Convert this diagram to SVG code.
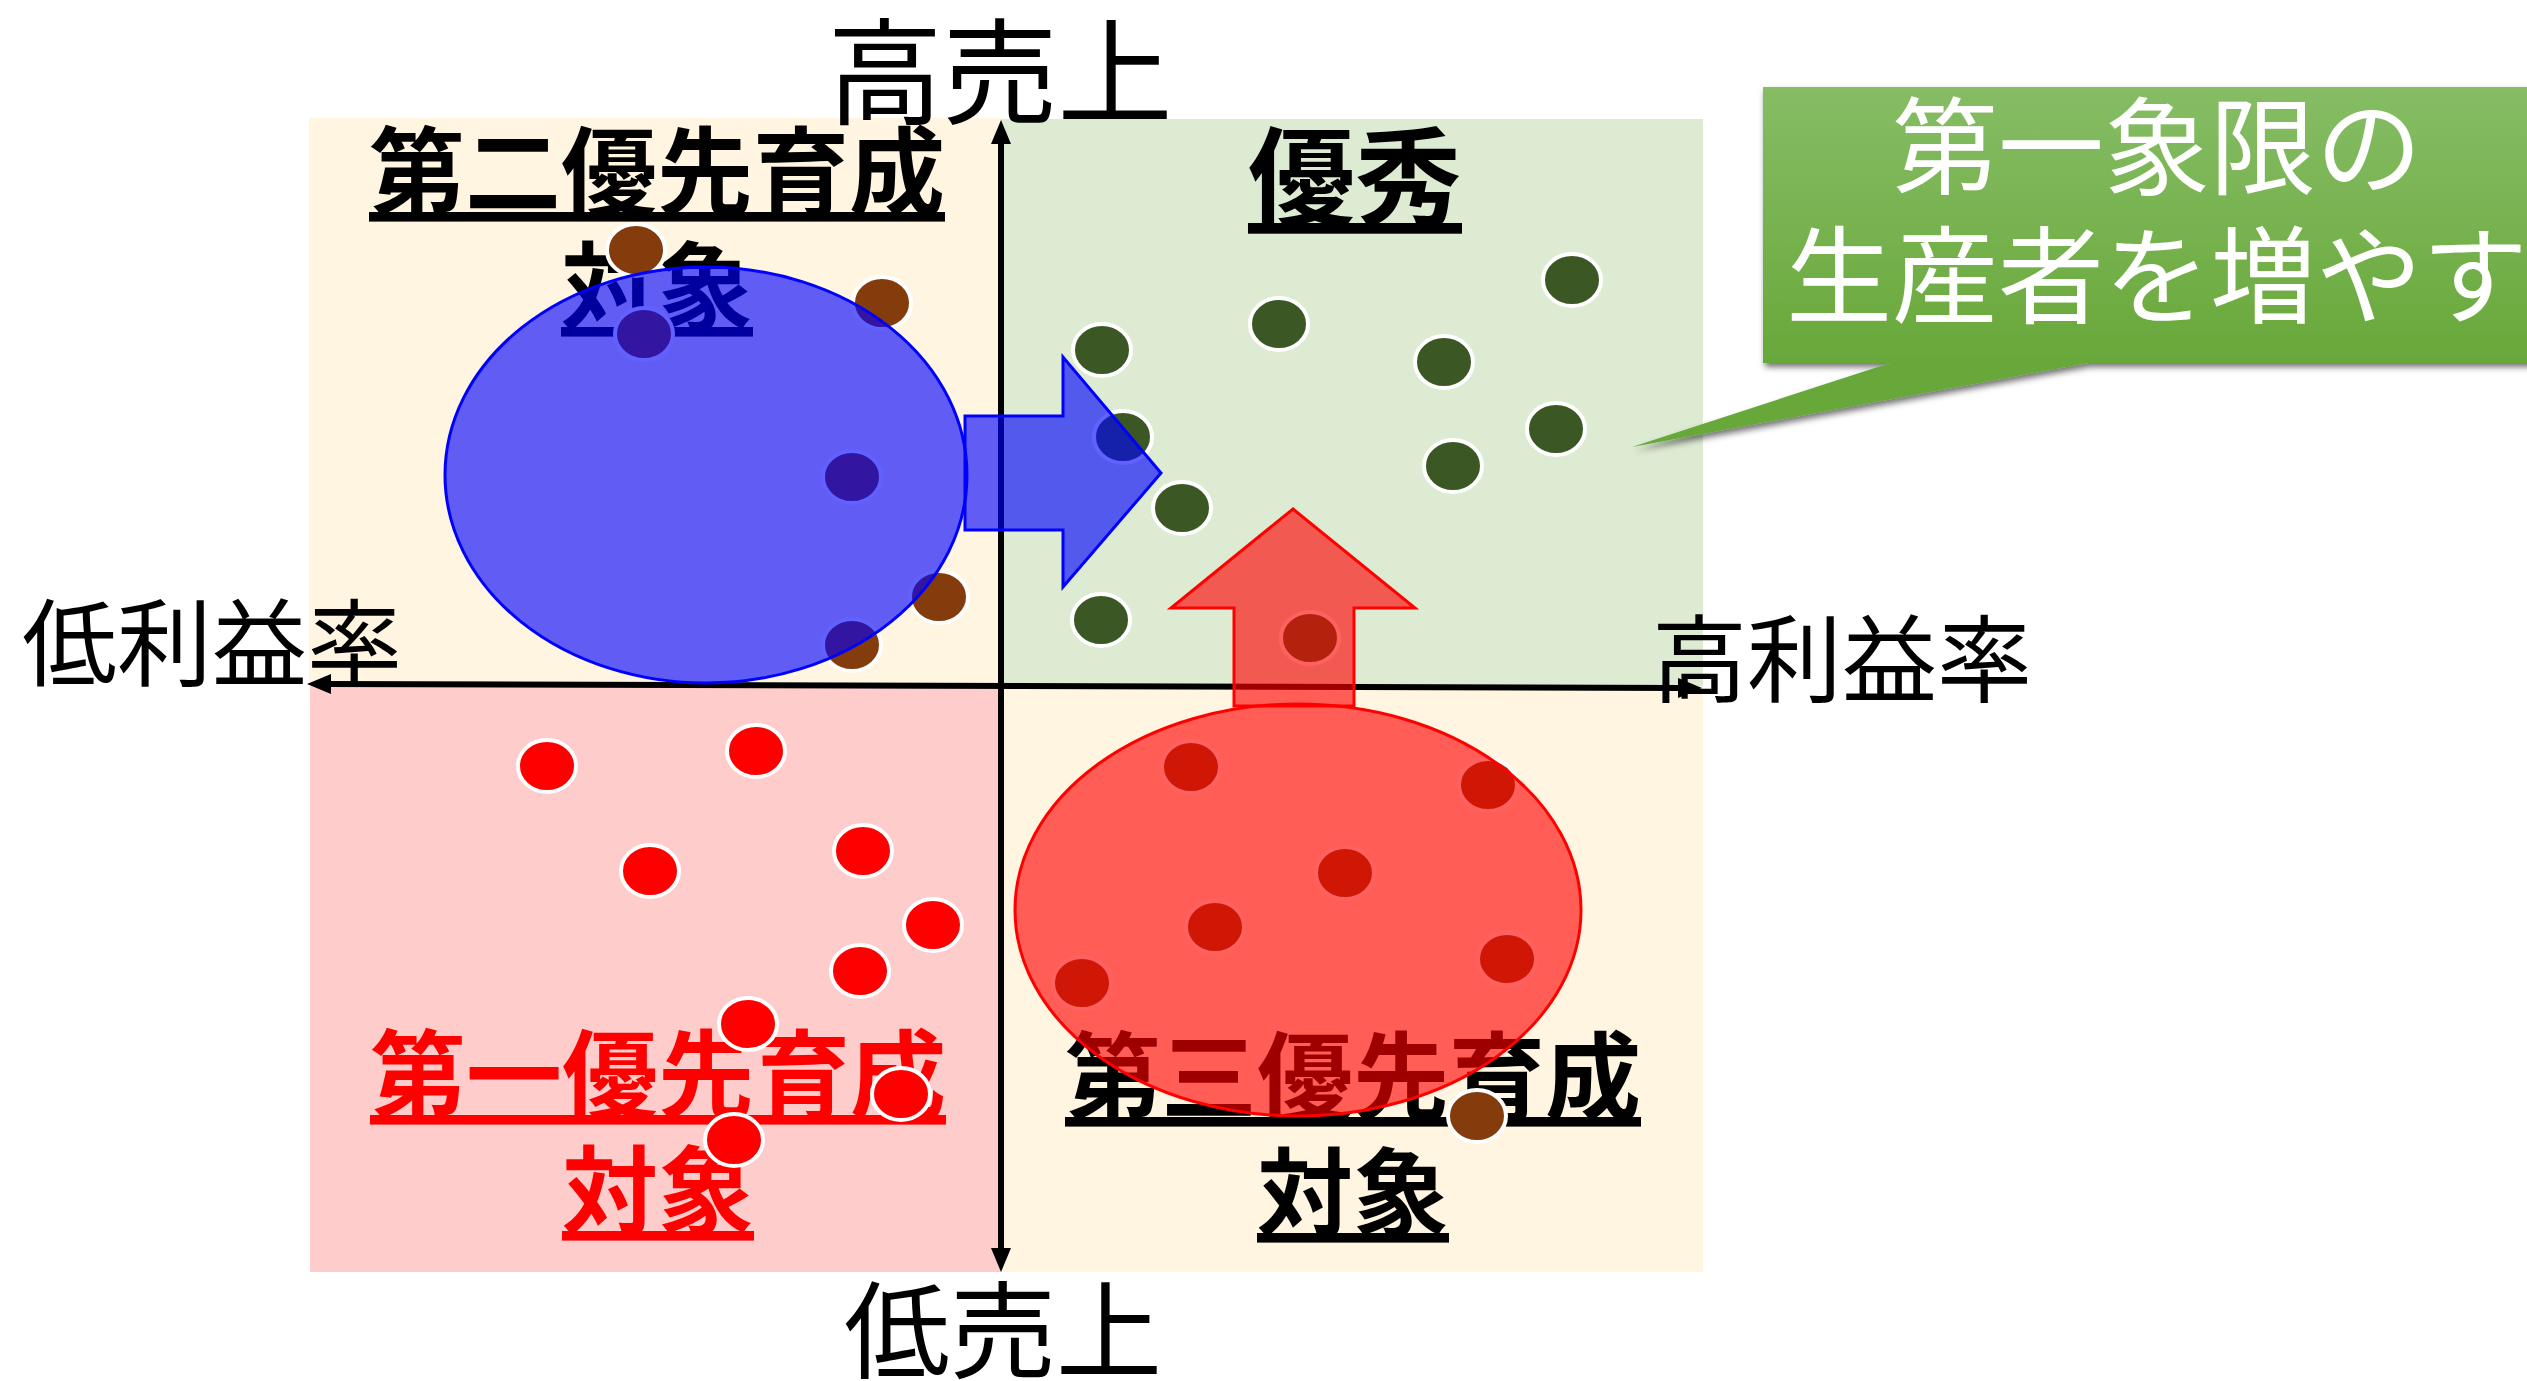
<svg xmlns="http://www.w3.org/2000/svg" width="2527" height="1381" viewBox="0 0 2527 1381">
<style>
.jp{font-family:"Noto Sans CJK JP","Noto Sans CJK SC",sans-serif}
.ax{font-size:95px;fill:#000;text-anchor:middle}
.ql{font-size:96px;font-weight:700;text-anchor:middle;text-decoration:underline}
.blk{fill:#000}
.red{fill:#FF0000}
.dot{stroke:#fff;stroke-width:4}
.g{fill:#3A5724}
.b{fill:#843C0C}
.r{fill:#FF0000}
.axis{stroke:#000;stroke-width:6;fill:none}
.co{fill:#fff;font-size:106px;text-anchor:middle}
</style>
<defs>
<marker id="ah" viewBox="0 0 24 20" refX="4" refY="10" markerWidth="24" markerHeight="20" markerUnits="userSpaceOnUse" orient="auto-start-reverse">
<path d="M0,0 L24,10 L0,20 Z" fill="#000"/>
</marker>
<linearGradient id="cg" x1="0" y1="87" x2="0" y2="363" gradientUnits="userSpaceOnUse">
<stop offset="0" stop-color="#86BD65"/>
<stop offset="1" stop-color="#68A83A"/>
</linearGradient>
<filter id="sh" x="-10%" y="-10%" width="130%" height="140%">
<feDropShadow dx="2" dy="4" stdDeviation="3" flood-color="#000" flood-opacity="0.55"/>
</filter>
</defs>

<g id="quadrant-tl"><rect x="309" y="118" width="692" height="567" fill="#FFF5E1"/></g>
<g id="quadrant-tr"><rect x="1001" y="119" width="702" height="567" fill="#DDEBD3"/></g>
<g id="quadrant-bl"><rect x="310" y="686" width="691" height="586" fill="#FFCCCC"/></g>
<g id="quadrant-br"><rect x="1001" y="686" width="702" height="586" fill="#FFF5E1"/></g>

<g id="label-tl" class="jp ql blk">
<text x="657" y="207">第二優先育成</text>
<text x="657" y="322">対象</text>
</g>
<g id="label-tr" class="jp ql blk">
<text x="1355" y="217" style="font-size:107px">優秀</text>
</g>
<g id="label-bl" class="jp ql red">
<text x="658" y="1110">第一優先育成</text>
<text x="658" y="1226">対象</text>
</g>
<g id="label-br" class="jp ql blk">
<text x="1353" y="1112">第三優先育成</text>
<text x="1353" y="1228">対象</text>
</g>

<g id="dots-green" class="dot g">
<ellipse cx="1102" cy="350" rx="29" ry="26"/>
<ellipse cx="1279" cy="324" rx="29" ry="26"/>
<ellipse cx="1572" cy="280" rx="29" ry="26"/>
<ellipse cx="1444" cy="362" rx="29" ry="26"/>
<ellipse cx="1123" cy="437" rx="29" ry="26"/>
<ellipse cx="1556" cy="429" rx="29" ry="26"/>
<ellipse cx="1453" cy="466" rx="29" ry="26"/>
<ellipse cx="1182" cy="508" rx="29" ry="26"/>
<ellipse cx="1101" cy="620" rx="29" ry="26"/>
<ellipse cx="1310" cy="638" rx="29" ry="26"/>
</g>
<g id="dots-brown" class="dot b">
<ellipse cx="636" cy="250" rx="29" ry="26"/>
<ellipse cx="882" cy="303" rx="29" ry="26"/>
<ellipse cx="644" cy="334" rx="29" ry="26"/>
<ellipse cx="852" cy="477" rx="29" ry="26"/>
<ellipse cx="939" cy="597" rx="29" ry="26"/>
<ellipse cx="852" cy="645" rx="29" ry="26"/>
<ellipse cx="1191" cy="767" rx="29" ry="26"/>
<ellipse cx="1488" cy="785" rx="29" ry="26"/>
<ellipse cx="1345" cy="873" rx="29" ry="26"/>
<ellipse cx="1215" cy="927" rx="29" ry="26"/>
<ellipse cx="1082" cy="983" rx="29" ry="26"/>
<ellipse cx="1507" cy="959" rx="29" ry="26"/>
<ellipse cx="1477" cy="1116" rx="29" ry="26"/>
</g>
<g id="dots-red" class="dot r">
<ellipse cx="547" cy="766" rx="29" ry="26"/>
<ellipse cx="756" cy="751" rx="29" ry="26"/>
<ellipse cx="650" cy="871" rx="29" ry="26"/>
<ellipse cx="863" cy="851" rx="29" ry="26"/>
<ellipse cx="933" cy="925" rx="29" ry="26"/>
<ellipse cx="860" cy="971" rx="29" ry="26"/>
<ellipse cx="748" cy="1024" rx="29" ry="26"/>
<ellipse cx="901" cy="1094" rx="29" ry="26"/>
<ellipse cx="734" cy="1140" rx="29" ry="26"/>
</g>

<g id="connectors">
<line class="axis" x1="327" y1="684" x2="1682" y2="688" marker-start="url(#ah)" marker-end="url(#ah)"/>
<line class="axis" x1="1001" y1="140" x2="1001" y2="1252" marker-start="url(#ah)" marker-end="url(#ah)"/>
</g>

<g id="axis-labels" class="jp ax">
<text x="1000" y="115" style="font-size:115px">高売上</text>
<text x="1003" y="1370" style="font-size:106px">低売上</text>
<text x="212" y="679">低利益率</text>
<text x="1842" y="695">高利益率</text>
</g>

<g id="blue-group">
<ellipse cx="706" cy="475" rx="261" ry="208" fill="#0000FF" fill-opacity="0.62" stroke="#0000FF" stroke-width="3"/>
</g>
<g id="blue-arrow">
<polygon points="965,416 1063,416 1063,357 1161,473 1063,587 1063,530 965,530" fill="#0000FF" fill-opacity="0.62" stroke="#0000FF" stroke-width="3"/>
</g>
<g id="red-group">
<ellipse cx="1298" cy="910" rx="283" ry="206" fill="#FF0000" fill-opacity="0.62" stroke="#FF0000" stroke-width="3"/>
</g>
<g id="red-arrow">
<polygon points="1234,706 1234,608 1171,608 1293,509 1415,608 1354,608 1354,706" fill="#FF0000" fill-opacity="0.62" stroke="#FF0000" stroke-width="3"/>
</g>

<g id="callout">
<path d="M1763,87 L2540,87 L2540,363 L2088,363 L1632,447 L1890,363 L1763,363 Z" fill="url(#cg)" filter="url(#sh)"/>
<text class="jp co" x="2157" y="186">第一象限の</text>
<text class="jp co" x="2157" y="315">生産者を増やす</text>
</g>
</svg>
